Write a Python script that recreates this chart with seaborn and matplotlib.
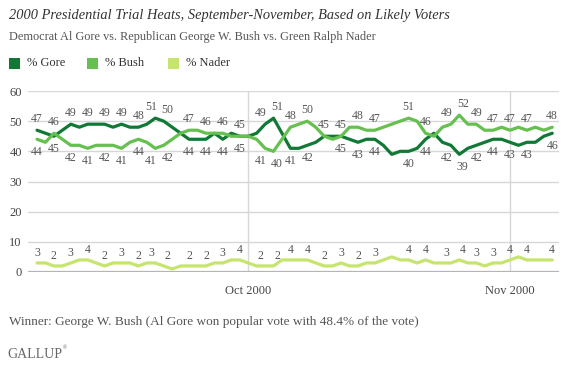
import numpy as np
import pandas as pd
import matplotlib.pyplot as plt
import matplotlib.dates as mdates
from matplotlib.patches import Rectangle
import seaborn as sns

# Datos diarios (Sep 6 - Nov 6, 2000), votantes probables
fechas = pd.date_range('2000-09-06', '2000-11-06', freq='D')
gore = [47, 46, 45, 47, 49, 48, 49, 49, 49, 48,
        49, 48, 48, 49, 51, 50, 48, 46, 44, 44,
        44, 46, 44, 46, 45, 45, 46, 49, 51, 46,
        41, 41, 42, 43, 45, 45, 45, 44, 43, 44,
        44, 42, 39, 40, 40, 41, 44, 46, 43, 42,
        39, 41, 42, 43, 44, 44, 43, 42, 43, 43,
        45, 46]
bush = [44, 43, 46, 44, 42, 42, 41, 42, 42, 42,
        41, 43, 44, 43, 41, 42, 44, 46, 47, 47,
        46, 46, 46, 45, 45, 45, 44, 41, 40, 44,
        48, 49, 50, 48, 45, 44, 45, 48, 48, 47,
        47, 48, 49, 50, 51, 50, 46, 45, 48, 49,
        52, 49, 49, 47, 47, 48, 47, 48, 47, 48,
        47, 48]
nader = [3, 3, 2, 2, 3, 4, 4, 3, 2, 3,
         3, 3, 2, 3, 3, 2, 1, 2, 2, 2,
         2, 3, 3, 4, 4, 3, 2, 2, 2, 4,
         4, 4, 4, 3, 2, 2, 3, 2, 2, 3,
         3, 4, 5, 4, 4, 3, 4, 3, 3, 3,
         4, 3, 3, 2, 3, 3, 4, 5, 4, 4,
         4, 4]

# dias con etiqueta de valor
dias_etiqueta = [0, 2, 4, 6, 8, 10, 12, 14, 15, 18, 20, 22, 24, 27, 28,
                 30, 32, 34, 36, 38, 40, 44, 46, 49, 50, 52, 54, 56, 58, 61]
sin_etiqueta_abajo = [34]

candidatos = ['% Gore', '% Bush', '% Nader']
colores = ['#117836', '#65c04f', '#c6e46e']

df = pd.DataFrame({'fecha': fechas, '% Gore': gore, '% Bush': bush, '% Nader': nader})
df_long = df.melt(id_vars='fecha', var_name='candidato', value_name='pct')

sns.set_style('white')
plt.rcParams['font.family'] = ['Liberation Serif', 'DejaVu Serif']

W, H = 567, 368
fig = plt.figure(figsize=(W / 100, H / 100), dpi=100)
ax = fig.add_axes([28 / W, 96 / H, 531 / W, 181 / H])

sns.lineplot(data=df_long, x='fecha', y='pct', hue='candidato', hue_order=candidatos,
             palette=colores, linewidth=2.3, legend=False, ax=ax, zorder=3)

ax.set_ylim(0, 60)
ax.set_xlim(fechas[0] - pd.Timedelta(days=1.07), fechas[0] + pd.Timedelta(days=61.8))
ax.set_yticks(range(0, 61, 10))
ticks_x = [pd.Timestamp('2000-10-01'), pd.Timestamp('2000-11-01')]
ax.set_xticks(mdates.date2num(ticks_x))
ax.set_xticklabels(['Oct 2000', 'Nov 2000'])
ax.grid(True, color='#d7d7d7', linewidth=1)
ax.axhline(0, color='#b5b5b5', linewidth=1.6, zorder=2)
for s in ax.spines.values():
    s.set_visible(False)
ax.tick_params(axis='both', length=0, labelsize=9, labelcolor='#444444')
ax.tick_params(axis='y', pad=4.5)
ax.tick_params(axis='x', pad=9)
ax.set_xlabel('')
ax.set_ylabel('')

# Etiquetas de valores
txt = dict(fontsize=8.5, color='#555555', ha='center', va='center',
           textcoords='offset points', annotation_clip=False)
for i in dias_etiqueta:
    dx = 0
    if i + 1 in dias_etiqueta:
        dx = -3
    elif i - 1 in dias_etiqueta:
        dx = 2.5
    x = mdates.date2num(fechas[i])
    alto = max(gore[i], bush[i])
    bajo = min(gore[i], bush[i])
    ax.annotate(str(alto), (x, alto), xytext=(dx, 8), **txt)
    if i not in sin_etiqueta_abajo:
        ax.annotate(str(bajo), (x, bajo), xytext=(dx, -9), **txt)
    ax.annotate(str(nader[i]), (x, nader[i]), xytext=(dx, 7.5), **txt)

# Titulos
fig.text(9 / W, 1 - 15 / H, '2000 Presidential Trial Heats, September-November, Based on Likely Voters',
         fontsize=10.4, style='italic', color='#333333', va='center')
fig.text(9 / W, 1 - 37 / H, 'Democrat Al Gore vs. Republican George W. Bush vs. Green Ralph Nader',
         fontsize=8.8, color='#555555', va='center')

# Leyenda manual
pos_leyenda = [9, 87, 168]
for nombre, color, x0 in zip(candidatos, colores, pos_leyenda):
    fig.add_artist(Rectangle((x0 / W, 1 - 69 / H), 11 / W, 11 / H, transform=fig.transFigure,
                             facecolor=color, edgecolor='none'))
    fig.text((x0 + 18) / W, 1 - 63.5 / H, nombre, fontsize=9, color='#333333', va='center')

fig.text(9 / W, 1 - 322 / H, 'Winner: George W. Bush (Al Gore won popular vote with 48.4% of the vote)',
         fontsize=9.5, color='#555555', va='center')
fig.text(7 / W, 1 - 354 / H, 'GALLUP', fontsize=10, color='#666666', va='center')
fig.text(63 / W, 1 - 348 / H, '\u00ae', fontsize=4, color='#666666', va='center')

plt.savefig('out.png', dpi=100)
plt.close()
